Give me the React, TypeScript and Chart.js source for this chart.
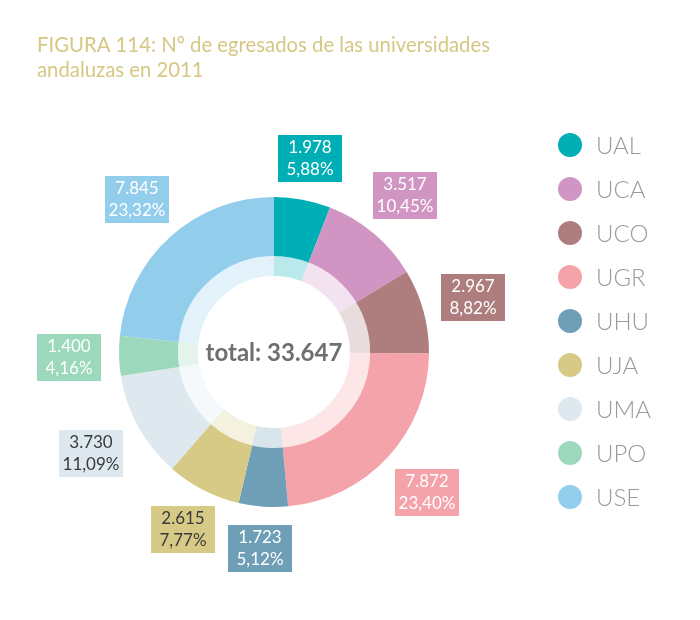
import React, { useEffect, useRef } from "react";
import { Chart, registerables } from "chart.js";

Chart.register(...registerables);

const universities = ["UAL", "UCA", "UCO", "UGR", "UHU", "UJA", "UMA", "UPO", "USE"];
const graduates = [1978, 3517, 2967, 7872, 1723, 2615, 3730, 1400, 7845];
const sliceColors = ["#00aeb5", "#d195c3", "#ae7e7f", "#f4a3aa", "#6e9fb6", "#d6ca86", "#dde8ef", "#9bd8bc", "#93cdec"];
const labelTextColors = ["#ffffff", "#ffffff", "#ffffff", "#ffffff", "#ffffff", "#3a3a3a", "#3a3a3a", "#ffffff", "#ffffff"];
const titleLines = ["FIGURA 114: Nº de egresados de las universidades", "andaluzas en 2011"];

const total = graduates.reduce((a, b) => a + b, 0);

function fmtThousands(n: number): string {
  return String(n).replace(/\B(?=(\d{3})+(?!\d))/g, ".");
}
function fmtPct(v: number): string {
  return ((v / total) * 100).toFixed(2).replace(".", ",") + "%";
}
function pale(hex: string, a: number): string {
  const r = parseInt(hex.slice(1, 3), 16);
  const g = parseInt(hex.slice(3, 5), 16);
  const b = parseInt(hex.slice(5, 7), 16);
  return `rgba(${r},${g},${b},${a})`;
}

const FONT = "Lato, 'Open Sans', sans-serif";

const overlayPlugin = {
  id: "overlay",
  afterDraw(chart: any) {
    const ctx: CanvasRenderingContext2D = chart.ctx;
    const meta = chart.getDatasetMeta(0);
    const first = meta.data[0];
    const cx = first.x;
    const cy = first.y;
    ctx.save();

    // title (horizontally condensed to match the narrower original face)
    ctx.fillStyle = "#d6c784";
    ctx.font = `400 22px ${FONT}`;
    ctx.textAlign = "left";
    ctx.textBaseline = "alphabetic";
    const w1 = ctx.measureText(titleLines[0]).width;
    const sx = Math.min(1, 453 / w1);
    ctx.save();
    ctx.translate(37, 0);
    ctx.scale(sx, 1);
    ctx.fillText(titleLines[0], 0, 52);
    ctx.fillText(titleLines[1], 0, 77);
    ctx.restore();

    // center total
    ctx.fillStyle = "#6f6f6f";
    ctx.font = `700 24px ${FONT}`;
    ctx.textAlign = "center";
    ctx.fillText("total: " + fmtThousands(total), cx, cy + 9);

    // value labels
    const w = 64;
    const h = 47;
    meta.data.forEach((arc: any, i: number) => {
      const p = arc.getProps(["startAngle", "endAngle", "outerRadius"], true);
      const mid = (p.startAngle + p.endAngle) / 2;
      const dx = Math.cos(mid);
      const dy = Math.sin(mid);
      const tx = Math.abs(dx) > 1e-6 ? w / 2 / Math.abs(dx) : Infinity;
      const ty = Math.abs(dy) > 1e-6 ? h / 2 / Math.abs(dy) : Infinity;
      const t = Math.min(tx, ty);
      const r = p.outerRadius + 18 + t;
      const bx = Math.round(cx + dx * r - w / 2);
      const by = Math.round(cy + dy * r - h / 2);
      ctx.fillStyle = sliceColors[i];
      ctx.fillRect(bx, by, w, h);
      ctx.fillStyle = labelTextColors[i];
      ctx.font = `400 17px ${FONT}`;
      ctx.textAlign = "center";
      ctx.fillText(fmtThousands(graduates[i]), bx + w / 2, by + 18);
      ctx.fillText(fmtPct(graduates[i]), bx + w / 2, by + 40);
    });

    // legend
    universities.forEach((name, i) => {
      const y = 145 + i * 44;
      ctx.beginPath();
      ctx.arc(570, y, 12, 0, Math.PI * 2);
      ctx.fillStyle = sliceColors[i];
      ctx.fill();
      ctx.fillStyle = "#9a9a9a";
      ctx.font = `300 24px ${FONT}`;
      ctx.textAlign = "left";
      ctx.fillText(name, 596, y + 9);
    });

    ctx.restore();
  },
};

export default function App() {
  const canvasRef = useRef<HTMLCanvasElement | null>(null);

  useEffect(() => {
    let chart: Chart | null = null;
    let cancelled = false;
    const make = () => {
      if (cancelled || !canvasRef.current) return;
      chart = new Chart(canvasRef.current, {
        type: "doughnut",
        data: {
          labels: universities,
          datasets: [
            {
              data: graduates,
              backgroundColor: sliceColors,
              borderWidth: 0,
              hoverOffset: 0,
              offset: 0,
              weight: 59,
            },
            {
              data: graduates,
              backgroundColor: sliceColors.map((c) => pale(c, 0.27)),
              borderWidth: 0,
              hoverOffset: 0,
              offset: 0,
              weight: 20,
            },
          ],
        },
        options: {
          responsive: false,
          animation: false,
          devicePixelRatio: 1,
          cutout: 76,
          layout: { padding: { left: 119, top: 197, right: 271, bottom: 113 } },
          plugins: {
            legend: { display: false },
            tooltip: { enabled: false },
            title: { display: false },
          },
          events: [],
        },
        plugins: [overlayPlugin],
      } as any);
    };
    const loads = [
      "400 22px Lato",
      "700 24px Lato",
      "300 24px Lato",
      "400 17px Lato",
    ].map((f) => (document.fonts ? document.fonts.load(f).catch(() => null) : Promise.resolve(null)));
    Promise.all(loads).then(make, make);
    return () => {
      cancelled = true;
      if (chart) chart.destroy();
    };
  }, []);

  return (
    <div style={{ position: "absolute", left: 0, top: 0, width: 700, height: 620, background: "#ffffff" }}>
      <canvas ref={canvasRef} width={700} height={620} style={{ display: "block", width: 700, height: 620 }} />
    </div>
  );
}
